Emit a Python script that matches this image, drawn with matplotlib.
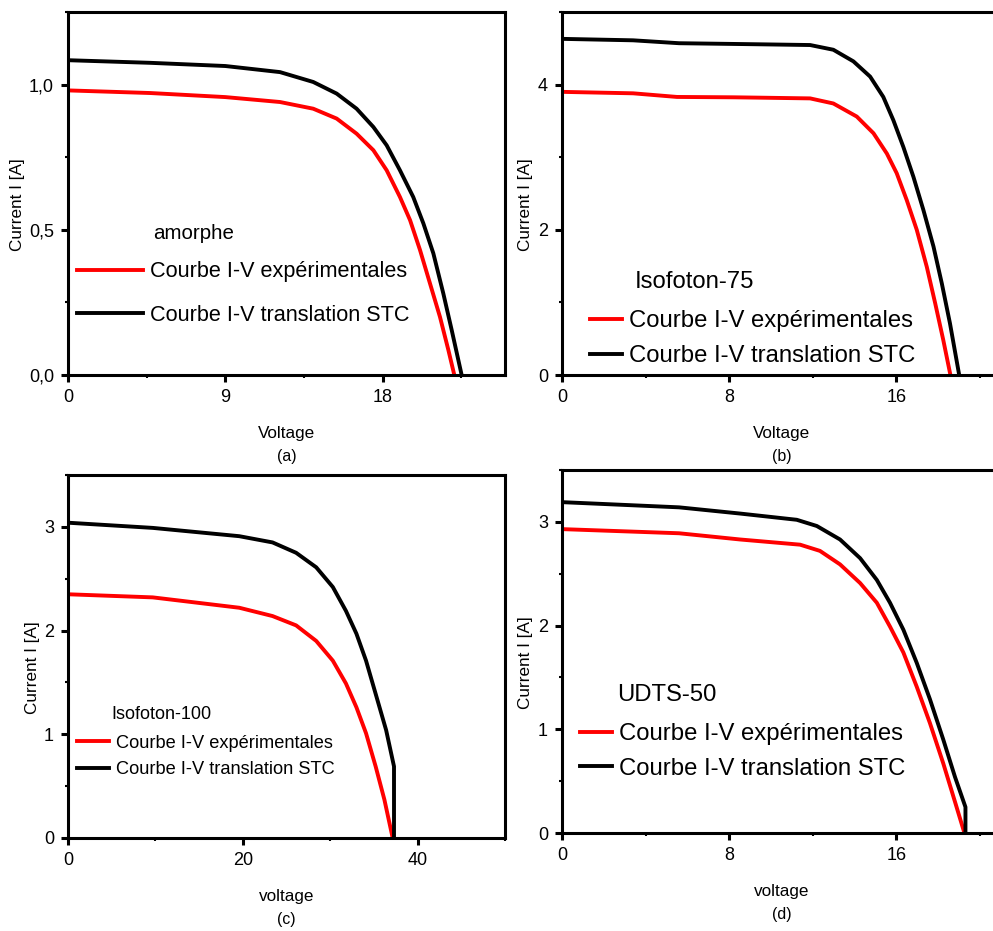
import matplotlib
matplotlib.use("Agg")
from matplotlib import pyplot as plt
from matplotlib import font_manager
from matplotlib.ticker import MultipleLocator

# ------------------------------- #
# I-V curves of four PV modules: measured curve and curve translated to STC
# ------------------------------- #

# (a) amorphe
va_exp = [0, 4.7, 9.0, 12.13, 14.03, 15.37, 16.51, 17.47, 18.23, 18.99, 19.57, 20.14, 20.71, 21.28, 21.76, 22.1]
ia_exp = [0.980, 0.971, 0.957, 0.940, 0.917, 0.883, 0.831, 0.774, 0.705, 0.613, 0.533, 0.430, 0.315, 0.20, 0.086, 0.0]
va_stc = [0, 4.7, 9.0, 12.13, 14.03, 15.37, 16.51, 17.47, 18.23, 18.99, 19.75, 20.33, 20.9, 21.47, 21.95, 22.52]
ia_stc = [1.084, 1.075, 1.064, 1.043, 1.009, 0.969, 0.917, 0.854, 0.791, 0.705, 0.613, 0.522, 0.419, 0.281, 0.155, 0.0]

# (b) Isofoton-75
vb_exp = [0, 3.4, 5.5, 8.2, 9.47, 11.87, 12.98, 14.1, 14.9, 15.54, 16.01, 16.49, 16.97, 17.45, 17.85, 18.24, 18.58]
ib_exp = [3.90, 3.88, 3.83, 3.825, 3.82, 3.81, 3.74, 3.56, 3.33, 3.05, 2.78, 2.41, 2.0, 1.49, 0.99, 0.48, 0.0]
vb_stc = [0, 3.4, 5.6, 8.2, 9.47, 11.87, 12.98, 13.94, 14.74, 15.37, 15.85, 16.33, 16.81, 17.29, 17.77, 18.17, 18.56, 19.0]
ib_stc = [4.63, 4.61, 4.57, 4.56, 4.555, 4.545, 4.48, 4.32, 4.11, 3.83, 3.51, 3.14, 2.73, 2.27, 1.77, 1.26, 0.71, 0.0]

# (c) Isofoton-100
vc_exp = [0, 9.7, 19.6, 23.4, 26.1, 28.4, 30.3, 31.8, 33.0, 34.1, 35.2, 36.2, 37.15]
ic_exp = [2.35, 2.32, 2.22, 2.14, 2.05, 1.90, 1.71, 1.49, 1.26, 1.01, 0.69, 0.37, 0.0]
vc_stc = [0, 9.7, 19.6, 23.4, 26.1, 28.4, 30.3, 31.8, 33.0, 34.1, 35.2, 36.4, 37.3, 37.3]
ic_stc = [3.04, 2.99, 2.91, 2.85, 2.75, 2.61, 2.42, 2.19, 1.97, 1.71, 1.39, 1.04, 0.69, 0.0]

# (d) UDTS-50
vd_exp = [0, 5.6, 8.52, 11.39, 12.34, 13.3, 14.26, 15.06, 15.69, 16.33, 16.97, 17.6, 18.24, 18.8, 19.25]
id_exp = [2.93, 2.89, 2.83, 2.78, 2.72, 2.59, 2.41, 2.22, 1.99, 1.74, 1.41, 1.06, 0.67, 0.30, 0.0]
vd_stc = [0, 5.6, 8.52, 11.23, 12.19, 13.3, 14.26, 15.06, 15.69, 16.33, 16.97, 17.6, 18.24, 18.8, 19.3, 19.3]
id_stc = [3.19, 3.14, 3.08, 3.02, 2.96, 2.83, 2.65, 2.44, 2.22, 1.96, 1.64, 1.29, 0.90, 0.54, 0.25, 0.0]

names = ["amorphe", "Isofoton-75", "Isofoton-100", "UDTS-50"]
letters = ["(a)", "(b)", "(c)", "(d)"]
xlabels = ["Voltage", "Voltage", "voltage", "voltage"]
ylabel = "Current I [A]"
lab_exp = "Courbe I-V expérimentales"
lab_stc = "Courbe I-V translation STC"

xticks = [[0, 9, 18], [0, 8, 16], [0, 20, 40], [0, 8, 16]]
yticks = [[0, 0.5, 1.0], [0, 2, 4], [0, 1, 2, 3], [0, 1, 2, 3]]
ytick_labels = [["0,0", "0,5", "1,0"], ["0", "2", "4"], ["0", "1", "2", "3"], ["0", "1", "2", "3"]]

# ------------------------------- #

# Narrow font if there is one, else shrink the regular one
fams = {f.name for f in font_manager.fontManager.ttflist}
if "Liberation Sans Narrow" in fams:
	NARROW = "Liberation Sans Narrow"
	k = 1.0
else:
	NARROW = "Liberation Sans"
	k = 0.82
REGULAR = "Liberation Sans"

W, H = 993, 931
fig = plt.figure(figsize=(W / 100, H / 100), dpi=100)

# axes boxes in pixels: left, top, right, bottom
boxes = [(68, 12, 505, 375), (562, 12, 1001, 375), (68, 475, 505, 838), (562, 470, 1001, 833)]
xlims = [25, 21, 50, 21]
ylims = [1.25, 5, 3.5, 3.5]
xminor = [4.5, 4, 10, 4]
yminor = [0.25, 1, 0.5, 0.5]
ylab_x = [-0.098, -0.066, -0.064, -0.066]

curves = [(va_exp, ia_exp, va_stc, ia_stc), (vb_exp, ib_exp, vb_stc, ib_stc),
	(vc_exp, ic_exp, vc_stc, ic_stc), (vd_exp, id_exp, vd_stc, id_stc)]

# legend: fontsize (pt, narrow), anchor x, anchor y, handle px, labelspacing, title x, title y, title size
leg = [(19, 0.021, 0.2245, 66, 1.04, 0.195, 0.391, 18),
	(21, 0.064, 0.100, 32, 0.53, 0.166, 0.256, 21),
	(16, 0.021, 0.2245, 32, 0.53, 0.100, 0.339, 15.8),
	(21, 0.041, 0.2245, 32, 0.53, 0.125, 0.380, 21)]

for i in range(4):
	l, t, r, b = boxes[i]
	ax = fig.add_axes([l / W, 1 - b / H, (r - l) / W, (b - t) / H])
	ve, ie, vs, is_ = curves[i]
	h1, = ax.plot(ve, ie, color="#ff0000", lw=2.8, label=lab_exp, solid_joinstyle="round")
	h2, = ax.plot(vs, is_, color="black", lw=2.8, label=lab_stc, solid_joinstyle="round")
	ax.set_xlim(0, xlims[i])
	ax.set_ylim(0, ylims[i])
	ax.set_xticks(xticks[i])
	ax.set_yticks(yticks[i])
	ax.set_yticklabels(ytick_labels[i])
	ax.xaxis.set_minor_locator(MultipleLocator(xminor[i]))
	ax.yaxis.set_minor_locator(MultipleLocator(yminor[i]))
	for s in ax.spines.values():
		s.set_linewidth(2.2)
	ax.tick_params(which="major", direction="out", length=5, width=2.2, pad=5,
		labelsize=13)
	ax.tick_params(which="minor", direction="out", length=2.5, width=1.5)
	for lab in ax.get_xticklabels() + ax.get_yticklabels():
		lab.set_family(NARROW)

	ax.set_xlabel(xlabels[i], family=NARROW, fontsize=15 * k)
	ax.xaxis.set_label_coords(0.5, -0.14)
	ax.set_ylabel(ylabel, family=REGULAR, fontsize=12.3)
	ax.yaxis.set_label_coords(ylab_x[i], 0.47)
	ax.text(0.5, -0.205, letters[i], transform=ax.transAxes, ha="center", va="top",
		family=NARROW, fontsize=14 * k)

	fs, lx, ly, hpx, ls, tx, ty, tfs = leg[i]
	fpx = fs * k * 100 / 72
	ax.legend(handles=[h1, h2], loc="center left", bbox_to_anchor=(lx, ly), frameon=False,
		borderpad=0, borderaxespad=0, handlelength=hpx / fpx, handletextpad=7 / fpx,
		labelspacing=ls, prop={"family": NARROW, "size": fs * k})
	ax.text(tx, ty, names[i], transform=ax.transAxes, ha="left", va="center",
		family=NARROW, fontsize=tfs * k)

fig.savefig("out.png", dpi=100)
